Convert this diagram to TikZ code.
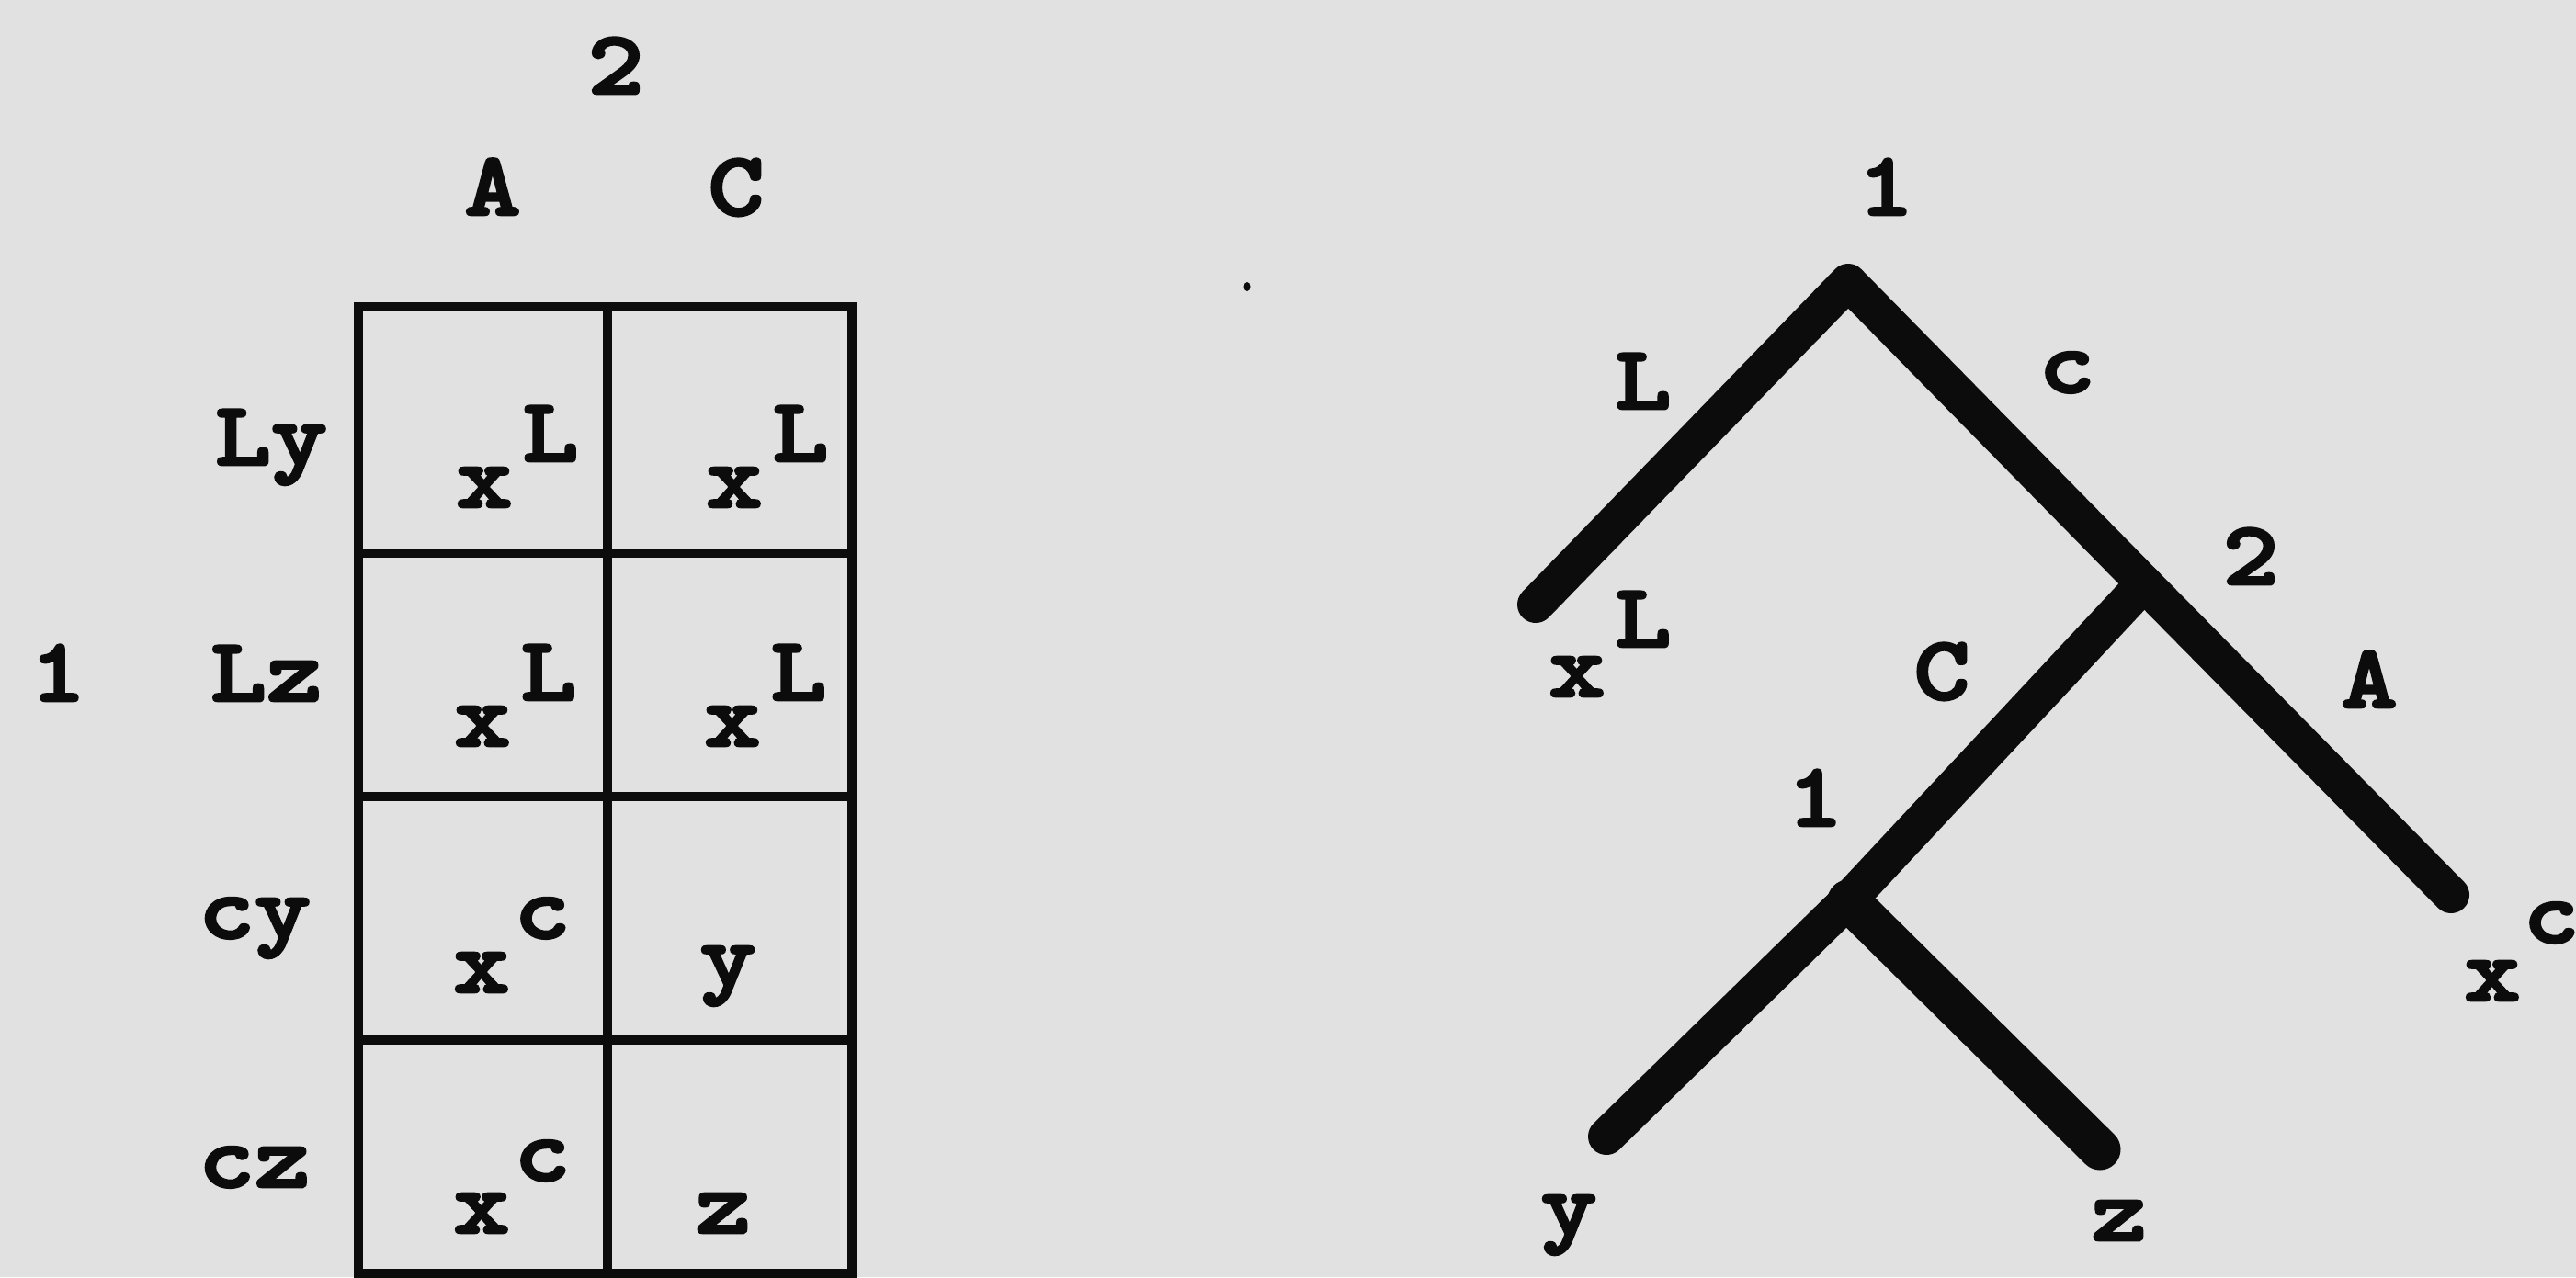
\documentclass[tikz,border=0pt]{standalone}
\usepackage{fontspec}
\newfontfamily\courfont{lmmonolt10-bold.otf}[FakeStretch=1.18, FakeBold=3]
\definecolor{bgcol}{RGB}{225,225,225}
\definecolor{ink}{RGB}{12,12,12}
\begin{document}
\begin{tikzpicture}[
  lbl/.style={font=\fontsize{28}{30}\selectfont\courfont, text=ink, inner sep=0pt, anchor=base},
  gridline/.style={draw=ink, line width=0.10cm},
  branch/.style={draw=ink, line width=0.40cm, line cap=round, line join=round},
  thickbranch/.style={draw=ink, line width=0.45cm, line cap=round, line join=round}
]
\fill[bgcol] (0,0) rectangle (28.03,13.90);
\useasboundingbox (0,0) rectangle (28.03,13.90);

% ---- table ----
\draw[gridline] (3.90,10.56) rectangle (9.27,0.04);
\draw[gridline] (6.61,10.56) -- (6.61,0.04);
\foreach \yy in {7.88,5.23,2.58} \draw[gridline] (3.90,\yy) -- (9.27,\yy);

\node[lbl] (p2) at (6.70,12.88) {2};
\node[lbl] (cA) at (5.36,11.56) {A};
\node[lbl] (cC) at (8.01,11.56) {C};
\node[lbl] (p1) at (0.63,6.27) {1};
\node[lbl] (rLy) at (2.95,8.84) {Ly};
\node[lbl] (rLz) at (2.90,6.27) {Lz};
\node[lbl] (rcy) at (2.77,3.69) {cy};
\node[lbl] (rcz) at (2.77,0.98) {cz};

\node[lbl] (a1x) at (5.27,8.38) {x};  \node[lbl] (a1s) at (5.99,8.88) {L};
\node[lbl] (b1x) at (7.99,8.38) {x};  \node[lbl] (b1s) at (8.71,8.88) {L};
\node[lbl] (a2x) at (5.25,5.78) {x};  \node[lbl] (a2s) at (5.97,6.28) {L};
\node[lbl] (b2x) at (7.97,5.78) {x};  \node[lbl] (b2s) at (8.69,6.28) {L};
\node[lbl] (a3x) at (5.24,3.10) {x};  \node[lbl] (a3s) at (5.90,3.69) {c};
\node[lbl] (b3y) at (7.92,3.17) {y};
\node[lbl] (a4x) at (5.24,0.48) {x};  \node[lbl] (a4s) at (5.90,1.05) {c};
\node[lbl] (b4z) at (7.87,0.48) {z};

% speck
\fill[ink] (13.57,10.78) ellipse (0.035 and 0.05);

% ---- tree ----
\coordinate (t1) at (20.11,10.83);
\coordinate (tl) at (16.71,7.32);
\coordinate (t2) at (23.33,7.55);
\coordinate (tr) at (26.67,4.16);
\coordinate (t3) at (20.11,4.10);
\coordinate (ty) at (17.48,1.53);
\coordinate (tz) at (22.85,1.39);
\draw[branch] (tl) -- (t1) -- (t2) -- (tr);
\draw[branch] (t2) -- (t3) -- (ty);
\draw[thickbranch] (t3) -- (tz);

\node[lbl] (n1) at (20.52,11.56) {1};
\node[lbl] (eL) at (17.88,9.45) {L};
\node[lbl] (ec) at (22.49,9.63) {c};
\node[lbl] (n2) at (24.49,7.54) {2};
\node[lbl] (lx) at (17.16,6.32) {x};  \node[lbl] (ls) at (17.88,6.86) {L};
\node[lbl] (eC) at (21.13,6.29) {C};
\node[lbl] (eA) at (25.78,6.20) {A};
\node[lbl] (n3) at (19.75,4.91) {1};
\node[lbl] (rx) at (27.12,3.01) {x};  \node[lbl] (rs) at (27.76,3.64) {c};
\node[lbl] (ly) at (17.07,0.46) {y};
\node[lbl] (lz) at (23.06,0.40) {z};
\end{tikzpicture}
\end{document}
